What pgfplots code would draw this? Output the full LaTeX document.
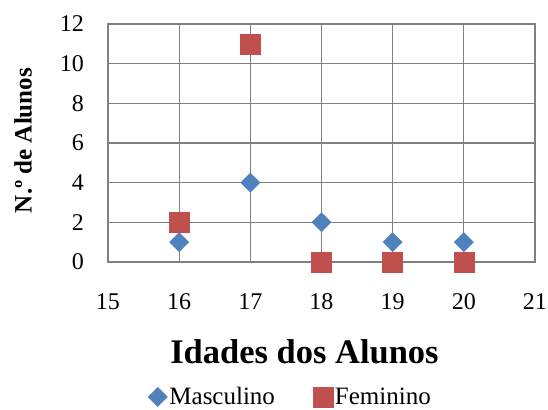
\documentclass[border=0pt]{standalone}
\usepackage{fontspec}
\setmainfont{Liberation Serif}
\usepackage{pgfplots}
\pgfplotsset{compat=1.18}
\definecolor{masc}{RGB}{79,129,189}
\definecolor{fem}{RGB}{192,80,77}
\definecolor{gridgray}{RGB}{128,128,128}
\begin{document}
\begin{tikzpicture}
\useasboundingbox (-108bp,-148bp) rectangle (440bp,262bp);
\begin{axis}[
    scale only axis,
    width=427bp, height=238bp,
    xmin=15, xmax=21, ymin=0, ymax=12,
    xtick={15,...,21}, ytick={0,2,...,12},
    xticklabels={15,16,17,18,19,20,21},
    yticklabels={0,2,4,6,8,10,12},
    clip=false,
    grid=major,
    major grid style={gridgray, line width=1.2bp},
    axis line style={gridgray, line width=1.2bp},
    major tick length=0pt,
    /pgf/number format/assume math mode=true,
    tick label style={font=\rmfamily\fontsize{24bp}{28bp}\selectfont, inner sep=0pt},
    x tick label style={yshift=-31bp},
    y tick label style={xshift=-24bp},
    xlabel={Idades dos Alunos},
    xlabel style={font=\bfseries\fontsize{34.5bp}{40bp}\selectfont,
        at={(axis description cs:0.4602,-0.4244)}, anchor=base},
    ylabel={N.º de Alunos},
    ylabel style={font=\bfseries\fontsize{25bp}{30bp}\selectfont,
        at={(axis description cs:-0.199,0.5105)}, anchor=center},
    legend columns=2,
    legend style={draw=none, fill=none,
        font=\fontsize{25bp}{30bp}\selectfont,
        at={(axis description cs:0.4274,-0.567)}, anchor=center,
        inner sep=0pt,
        /tikz/every even column/.append style={column sep=36bp}},
    legend image code/.code={\draw[#1] plot coordinates {(0bp,0bp)};},
]
\addplot[only marks, mark=square*, mark size=6.8bp, color=masc,
    mark options={rotate=45}]
    coordinates {(16,1) (17,4) (18,2) (19,1) (20,1)};
\addlegendentry{Masculino}
\addplot[only marks, mark=square*, mark size=10bp, color=fem]
    coordinates {(16,2) (17,11) (18,0) (19,0) (20,0)};
\addlegendentry{Feminino}
\end{axis}
\end{tikzpicture}
\end{document}
